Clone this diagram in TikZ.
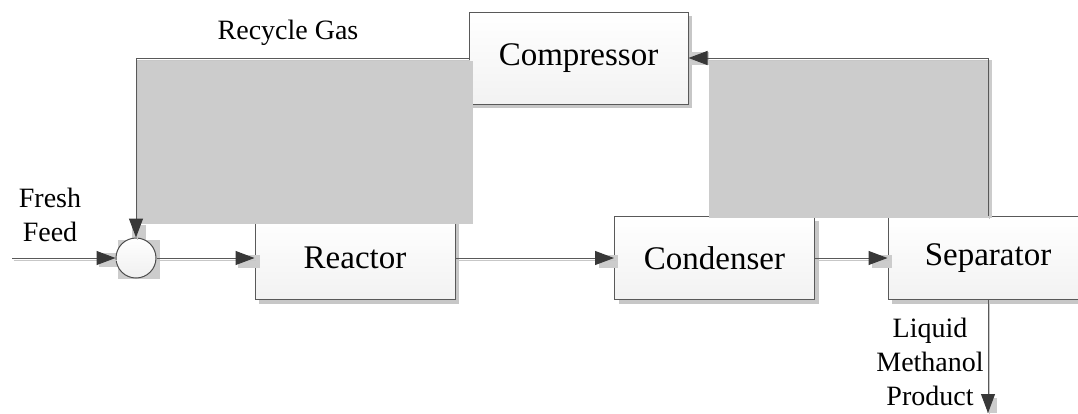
\documentclass[tikz,border=0pt]{standalone}
\usepackage{fontspec}
\setmainfont{Liberation Serif}
\usetikzlibrary{arrows.meta, shadows, positioning}

\tikzset{
  unit/.style={draw=black!65, line width=1pt, top color=white, bottom color=black!5,
    minimum width=200pt, minimum height=83pt, inner sep=0pt,
    font=\fontsize{33}{40}\selectfont,
    drop shadow={shadow xshift=4pt, shadow yshift=-4pt, fill=black!22, opacity=1}},
  mixer/.style={circle, draw=black!70, line width=1pt, top color=white, bottom color=black!6,
    minimum size=40pt, inner sep=0pt},
  flow/.style={draw=black!65, line width=1pt,
    -{Triangle[length=19pt,width=14pt,color=black!78]},
    preaction={draw=black!22, line width=1.4pt, -, transform canvas={xshift=1.5pt, yshift=-2.5pt}}},
  tag/.style={font=\fontsize{28}{34}\selectfont, align=center, inner sep=0pt},
  blot/.style={fill=black!20},
}

\begin{document}
\begin{tikzpicture}[x=1pt, y=-1pt]
    \useasboundingbox (0,0) rectangle (1078,413);

    % --- units ---
    \node[unit, minimum width=219pt, minimum height=92pt] (compressor) at (578.5,58) {Compressor};
    \node[unit] (reactor) at (355,258) {Reactor};
    \node[unit] (condenser) at (714.5,258) {Condenser};
    \node[unit] (separator) at (988,258) {Separator};

    % --- grey patches ---
    \fill[blot] (138,61) rectangle (473,224);
    \fill[blot] (709,60) rectangle (992,218);
    \fill[blot] (99,253) rectangle (118,267);
    \fill[blot] (132,225) rectangle (146,242);
    \fill[blot] (238,255) rectangle (260,268);
    \fill[blot] (599,255) rectangle (618,268);
    \fill[blot] (872,255) rectangle (892,268);
    \fill[blot] (690,52) rectangle (709,65);
    \fill[blot] (987,398) rectangle (997,413);
    \fill[blot] (118,240) rectangle (160,279);

    % --- mixing point ---
    \node[mixer] (mix) at (136,258) {};

    % --- streams ---
    \coordinate (feed) at (12,258);
    \coordinate (out) at (988,413);
    \draw[flow] (feed) -- (mix.west);
    \draw[flow] (mix.east) -- (reactor.west);
    \draw[flow] (reactor.east) -- (condenser.west);
    \draw[flow] (condenser.east) -- (separator.west);
    \draw[flow] (separator.south) -- (out);
    \draw[flow] (separator.north) |- (compressor.east);
    \draw[flow] (compressor.west) -| (mix.north);

    % --- stream labels ---
    \node[tag] (feedlbl) at (50,215) {Fresh\\Feed};
    \node[tag] (gaslbl) at (288,33) {Recycle Gas};
    \node[tag] (prodlbl) at (930,362) {Liquid\\Methanol\\Product};
\end{tikzpicture}
\end{document}
